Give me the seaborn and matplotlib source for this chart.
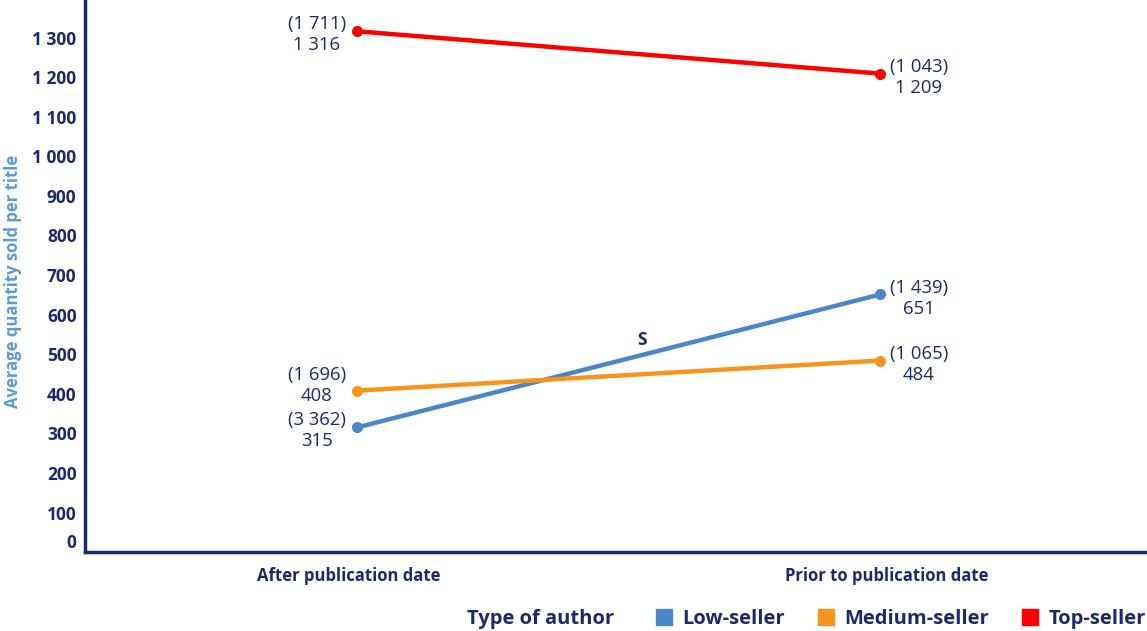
import matplotlib
matplotlib.use("Agg")
import matplotlib.pyplot as plt
import matplotlib.transforms as mtransforms
from matplotlib.lines import Line2D
import seaborn as sns
import pandas as pd

categories = ["After publication date", "Prior to publication date"]
series_names = ["Low-seller", "Medium-seller", "Top-seller"]
low_values = [315, 651]
medium_values = [408, 484]
top_values = [1316, 1209]
low_counts = [3362, 1439]
medium_counts = [1696, 1065]
top_counts = [1711, 1043]
y_ticks = list(range(0, 1400, 100))

NAVY = "#1B2A6B"
palette = {"Low-seller": "#4A86C8", "Medium-seller": "#F7941D", "Top-seller": "#FF0000"}

def fmt(v):
    return f"{v:,}".replace(",", " ")

values = {"Low-seller": low_values, "Medium-seller": medium_values, "Top-seller": top_values}
counts = {"Low-seller": low_counts, "Medium-seller": medium_counts, "Top-seller": top_counts}

rows = []
for s in series_names:
    for i, c in enumerate(categories):
        rows.append({"x": i, "cat": c, "value": values[s][i], "count": counts[s][i], "type": s})
df = pd.DataFrame(rows)

sns.set_theme(style="white")
plt.rcParams["font.family"] = ["Open Sans", "DejaVu Sans"]

fig = plt.figure(figsize=(11.47, 6.31), dpi=100)
ax = fig.add_axes([0.074, 0.125, 0.926, 0.875])

sns.lineplot(data=df, x="x", y="value", hue="type", palette=palette, hue_order=series_names,
             marker="o", markersize=8, markeredgewidth=0, linewidth=3.2, legend=False, ax=ax)

ax.set_xlim(-0.52, 1.51)
ax.set_ylim(0, 1395)
ax.set_xticks([0, 1])
ax.set_xticklabels(categories, fontsize=12, fontweight="bold", color=NAVY)
ax.set_yticks(y_ticks)
ax.set_yticklabels([fmt(t) for t in y_ticks], fontsize=12.5, fontweight="bold", color=NAVY)
ax.tick_params(axis="y", length=0, pad=6)
ax.tick_params(axis="x", length=0, pad=11)
for lbl, dx in zip(ax.get_xticklabels(), [-6, 5]):
    lbl.set_transform(lbl.get_transform() + mtransforms.ScaledTranslation(dx/72, 0, fig.dpi_scale_trans))
# shift the "0" label up off the axis line
lbl0 = ax.get_yticklabels()[0]
lbl0.set_transform(lbl0.get_transform() + mtransforms.ScaledTranslation(0, 8/72, fig.dpi_scale_trans))

ax.set_xlabel("")
ax.set_ylabel("Average quantity sold per title", fontsize=12, fontweight="bold", color="#5B9BD5")
ax.yaxis.set_label_coords(-0.059, 0.49)

for side in ["top", "right"]:
    ax.spines[side].set_visible(False)
for side in ["left", "bottom"]:
    ax.spines[side].set_color(NAVY)
    ax.spines[side].set_linewidth(2.5)

left_dy = {"Low-seller": -2, "Medium-seller": 4, "Top-seller": -2}
for _, r in df.iterrows():
    txt = f"({fmt(r['count'])})\n{fmt(r['value'])}"
    if r["x"] == 0:
        ax.annotate(txt, (r["x"], r["value"]), xytext=(-8, left_dy[r["type"]]), textcoords="offset points",
                    ha="right", va="center", multialignment="center", fontsize=13.3, color=NAVY,
                    linespacing=1.22)
    else:
        ax.annotate(txt, (r["x"], r["value"]), xytext=(7, -3), textcoords="offset points",
                    ha="left", va="center", multialignment="center", fontsize=13.3, color=NAVY,
                    linespacing=1.22)

ax.text(0.545, 535, "S", fontsize=12.5, fontweight="bold", color=NAVY, ha="center", va="center")

fig.text(0.535, 0.019, "Type of author", fontsize=14.5, fontweight="bold", color=NAVY,
         ha="right", va="center")
handles = [Line2D([], [], marker="s", linestyle="none", markersize=12, color=palette[s]) for s in series_names]
fig.legend(handles, series_names, loc="center left", bbox_to_anchor=(0.571, 0.019), ncol=3,
           frameon=False, handletextpad=0.45, columnspacing=1.6, handlelength=0.9, borderpad=0, borderaxespad=0,
           prop={"size": 14.5, "weight": "bold"}, labelcolor=NAVY)

fig.savefig("out.png", dpi=100)
